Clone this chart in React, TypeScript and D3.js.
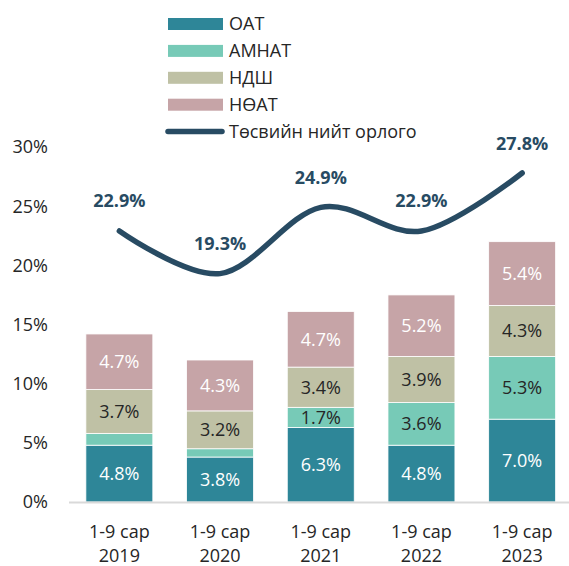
import React, { useEffect, useRef } from 'react';
import * as d3 from 'd3';

const categories = ['2019', '2020', '2021', '2022', '2023'];
const seriesNames = ['ОАТ', 'АМНАТ', 'НДШ', 'НӨАТ'];
const oat = [4.8, 3.8, 6.3, 4.8, 7.0];
const amnat = [1.0, 0.7, 1.7, 3.6, 5.3];
const ndsh = [3.7, 3.2, 3.4, 3.9, 4.3];
const noat = [4.7, 4.3, 4.7, 5.2, 5.4];
const totalRevenue = [22.9, 19.3, 24.9, 22.9, 27.8];
const lineName = 'Төсвийн нийт орлого';
const yTicks = [0, 5, 10, 15, 20, 25, 30];

const colors = ['#2e8698', '#77cab7', '#bfc1a5', '#c6a4a7'];
const labelColors = ['#ffffff', '#262626', '#262626', '#ffffff'];
const lineColor = '#284b63';
const FONT = '"Open Sans", "Noto Sans", sans-serif';
const FS = 18;

export default function App() {
  const ref = useRef<SVGSVGElement>(null);

  useEffect(() => {
    const svg = d3.select(ref.current);
    svg.selectAll('*').remove();

    const y = d3.scaleLinear().domain([0, 30]).range([502, 147]);
    const x = d3
      .scaleBand()
      .domain(categories)
      .range([69, 572.5])
      .paddingInner(0.335)
      .paddingOuter(0.1675);

    const rows = categories.map((c, i) => ({
      cat: c,
      'ОАТ': oat[i],
      'АМНАТ': amnat[i],
      'НДШ': ndsh[i],
      'НӨАТ': noat[i],
    }));
    const stacked = d3.stack<any>().keys(seriesNames)(rows);

    // y axis tick labels
    svg
      .append('g')
      .selectAll('text')
      .data(yTicks)
      .enter()
      .append('text')
      .attr('x', 48)
      .attr('y', (d) => y(d))
      .attr('dy', '0.36em')
      .attr('text-anchor', 'end')
      .attr('font-family', FONT)
      .attr('font-size', FS)
      .attr('fill', '#262626')
      .text((d) => d + '%');

    // bars
    stacked.forEach((layer, si) => {
      const g = svg.append('g');
      g.selectAll('rect')
        .data(layer)
        .enter()
        .append('rect')
        .attr('x', (d: any) => x(d.data.cat)!)
        .attr('width', x.bandwidth())
        .attr('y', (d) => y(d[1]))
        .attr('height', (d) => y(d[0]) - y(d[1]))
        .attr('fill', colors[si])
        .attr('stroke', '#ffffff')
        .attr('stroke-width', 0.8);

      g.selectAll('text')
        .data(layer.filter((d) => d[1] - d[0] >= 1.5))
        .enter()
        .append('text')
        .attr('x', (d: any) => x(d.data.cat)! + x.bandwidth() / 2)
        .attr('y', (d) => y((d[0] + d[1]) / 2))
        .attr('dy', '0.36em')
        .attr('text-anchor', 'middle')
        .attr('font-family', FONT)
        .attr('font-size', FS)
        .attr('fill', labelColors[si])
        .text((d) => (d[1] - d[0]).toFixed(1) + '%');
    });

    // x axis line
    svg
      .append('line')
      .attr('x1', 69)
      .attr('x2', 569)
      .attr('y1', y(0) + 0.5)
      .attr('y2', y(0) + 0.5)
      .attr('stroke', '#d9d9d9')
      .attr('stroke-width', 2);

    // category labels
    const cl = svg.append('g');
    categories.forEach((c) => {
      const cx = x(c)! + x.bandwidth() / 2;
      const t = cl
        .append('text')
        .attr('text-anchor', 'middle')
        .attr('font-family', FONT)
        .attr('font-size', FS)
        .attr('fill', '#262626');
      t.append('tspan').attr('x', cx).attr('y', 538).text('1-9 сар');
      t.append('tspan').attr('x', cx).attr('y', 562).text(c);
    });

    // line
    const line = d3
      .line<number>()
      .x((d, i) => x(categories[i])! + x.bandwidth() / 2)
      .y((d) => y(d))
      .curve(d3.curveCardinal.tension(0));
    svg
      .append('path')
      .attr('d', line(totalRevenue)!)
      .attr('fill', 'none')
      .attr('stroke', lineColor)
      .attr('stroke-width', 5.5)
      .attr('stroke-linecap', 'round');

    svg
      .append('g')
      .selectAll('text')
      .data(totalRevenue)
      .enter()
      .append('text')
      .attr('x', (d, i) => x(categories[i])! + x.bandwidth() / 2)
      .attr('y', (d) => y(d) - 30)
      .attr('dy', '0.36em')
      .attr('text-anchor', 'middle')
      .attr('font-family', FONT)
      .attr('font-size', FS)
      .attr('font-weight', 'bold')
      .attr('fill', lineColor)
      .text((d) => d.toFixed(1) + '%');

    // legend
    const lg = svg.append('g');
    const rowY = (i: number) => 24 + i * 26.9;
    seriesNames.forEach((n, i) => {
      lg.append('rect')
        .attr('x', 168)
        .attr('y', rowY(i) - 6)
        .attr('width', 55)
        .attr('height', 12)
        .attr('fill', colors[i]);
      lg.append('text')
        .attr('x', 229)
        .attr('y', rowY(i))
        .attr('dy', '0.36em')
        .attr('font-family', FONT)
        .attr('font-size', FS)
        .attr('fill', '#262626')
        .text(n);
    });
    lg.append('line')
      .attr('x1', 168)
      .attr('x2', 222)
      .attr('y1', rowY(4))
      .attr('y2', rowY(4))
      .attr('stroke', lineColor)
      .attr('stroke-width', 5.5)
      .attr('stroke-linecap', 'round');
    lg.append('text')
      .attr('x', 229)
      .attr('y', rowY(4))
      .attr('dy', '0.36em')
      .attr('font-family', FONT)
      .attr('font-size', FS)
      .attr('fill', '#262626')
      .text(lineName);
  }, []);

  return (
    <svg
      ref={ref}
      width={569}
      height={566}
      style={{ position: 'absolute', left: 0, top: 0, background: '#ffffff' }}
    />
  );
}
